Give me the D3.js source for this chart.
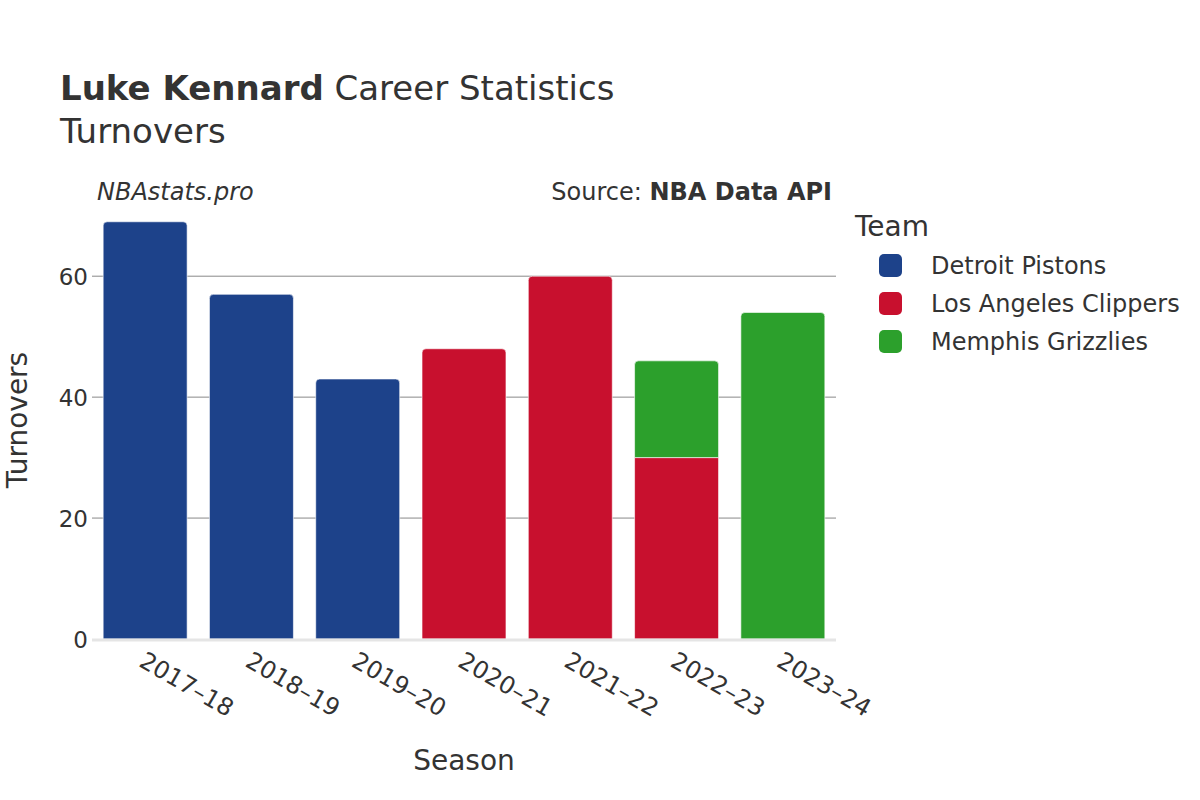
<!DOCTYPE html>
<html><head><meta charset="utf-8">
<script src="https://cdn.jsdelivr.net/npm/d3@7"></script>
<style>body{margin:0;background:#fff;}text{font-family:"DejaVu Sans",sans-serif;fill:#333;}</style>
</head><body><svg id="c" width="1200" height="800"></svg>
<script>
const seasons = ["2017–18","2018–19","2019–20","2020–21","2021–22","2022–23","2023–24"];
const teams = ["Detroit Pistons","Los Angeles Clippers","Memphis Grizzlies"];
const teamColors = ["#1d428a","#c8102e","#2ca02c"];
const detroit = [69,57,43,0,0,0,0];
const clippers = [0,0,0,48,60,30,0];
const memphis = [0,0,0,0,0,16,54];
const yTicks = [0,20,40,60];

const svg = d3.select("#c");
const x = d3.scaleBand().domain(seasons).range([92,836]).paddingInner(0.21).paddingOuter(0.105);
const y = d3.scaleLinear().domain([0,72.6]).range([639,200]);

// gridlines
svg.append("g").selectAll("line").data(yTicks.filter(d=>d>0)).join("line")
  .attr("x1",92).attr("x2",836).attr("y1",d=>y(d)).attr("y2",d=>y(d))
  .attr("stroke","#888").attr("stroke-width",1);

const series = [detroit,clippers,memphis];
const stacks = seasons.map((s,i)=>{
  let base=0; const segs=[];
  series.forEach((arr,k)=>{ if(arr[i]>0){ segs.push({s,k,y0:base,y1:base+arr[i]}); base+=arr[i]; } });
  segs.forEach((g,j)=>g.top = j===segs.length-1);
  return segs;
}).flat();

const r = 4;
function barPath(d){
  const x0=x(d.s), w=x.bandwidth(), yt=y(d.y1), yb=y(d.y0);
  if(!d.top) return `M${x0},${yb}V${yt}H${x0+w}V${yb}Z`;
  return `M${x0},${yb}V${yt+r}Q${x0},${yt} ${x0+r},${yt}H${x0+w-r}Q${x0+w},${yt} ${x0+w},${yt+r}V${yb}Z`;
}
svg.append("g").selectAll("path").data(stacks).join("path")
  .attr("d",barPath).attr("fill",d=>teamColors[d.k])
  .attr("stroke","#fff").attr("stroke-width",0.6);

// zero line
svg.append("line").attr("x1",92).attr("x2",836).attr("y1",y(0)+1).attr("y2",y(0)+1)
  .attr("stroke","#e5e5e5").attr("stroke-width",3);

// y axis
const ya = svg.append("g").attr("transform","translate(92,0)")
  .call(d3.axisLeft(y).tickValues(yTicks).tickSize(0).tickPadding(4));
ya.select(".domain").remove();
ya.selectAll(".tick text").style("font-size","23px").attr("fill","#333").attr("dy","0.35em");

// x axis
const xa = svg.append("g").attr("transform",`translate(0,${y(0)+3})`)
  .call(d3.axisBottom(x).tickSize(0));
xa.select(".domain").remove();
xa.selectAll(".tick text").style("font-size","24px").attr("fill","#333")
  .attr("text-anchor","start").attr("dy",0).attr("transform","translate(-6,21) rotate(30)");

// titles
const t = svg.append("text").attr("x",60).attr("y",100).style("font-size","34px");
t.append("tspan").text("Luke Kennard").style("font-weight","bold");
t.append("tspan").text(" Career Statistics");
svg.append("text").attr("x",60).attr("y",143).style("font-size","34px").text("Turnovers");
svg.append("text").attr("x",97).attr("y",200).style("font-size","24px").style("font-style","italic").text("NBAstats.pro");
const src = svg.append("text").attr("x",832).attr("y",200).attr("text-anchor","end").style("font-size","24px");
src.append("tspan").text("Source: ");
src.append("tspan").text("NBA Data API").style("font-weight","bold");

svg.append("text").attr("transform","translate(27,420) rotate(-90)").attr("text-anchor","middle").style("font-size","28px").text("Turnovers");
svg.append("text").attr("x",464).attr("y",770).attr("text-anchor","middle").style("font-size","28px").text("Season");

// legend
svg.append("text").attr("x",855).attr("y",236).style("font-size","28px").text("Team");
const lg = svg.append("g").selectAll("g").data(teams).join("g")
  .attr("transform",(d,i)=>`translate(879,${254+i*38})`);
lg.append("rect").attr("width",23).attr("height",23).attr("rx",5).attr("fill",(d,i)=>teamColors[i]);
lg.append("text").attr("x",52).attr("y",12).attr("dy","0.35em").style("font-size","24px").text(d=>d);
</script></body></html>
